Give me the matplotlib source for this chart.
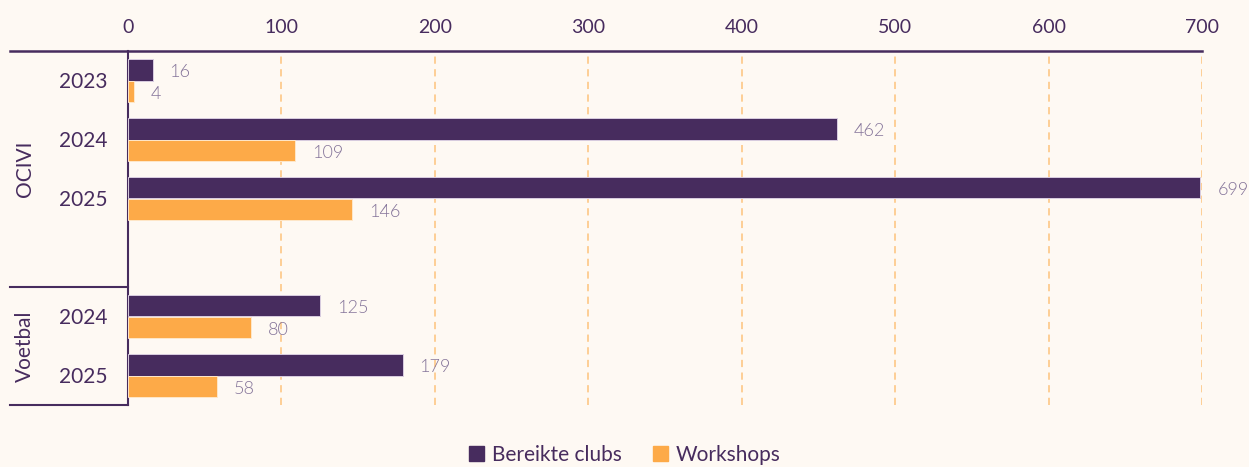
import numpy as np
import matplotlib
matplotlib.use("Agg")
import matplotlib.pyplot as plt
from matplotlib.patches import Patch
from matplotlib.transforms import blended_transform_factory

plt.rcParams["font.family"] = ["Lato", "DejaVu Sans"]

# data
groups = ["OCIVI", "Voetbal"]
years = ["2023", "2024", "2025", "2024", "2025"]
row_group = ["OCIVI", "OCIVI", "OCIVI", "Voetbal", "Voetbal"]
clubs = [16, 462, 699, 125, 179]
workshops = [4, 109, 146, 80, 58]
series = ["Bereikte clubs", "Workshops"]

BG = "#FEF9F3"
PURPLE = "#472C5E"
ORANGE = "#FDAA48"
GRID = "#FDCB8E"
LABEL = "#85759A"

# slot positions: OCIVI uses 4 slots (last empty), Voetbal 2
pos = np.array([0, 1, 2, 4, 5])
group_span = {"OCIVI": (-0.5, 3.5), "Voetbal": (3.5, 5.5)}
bh = 0.37

fig = plt.figure(figsize=(12.49, 4.67), dpi=100, facecolor=BG)
ax = fig.add_axes([128 / 1249, 1 - 405 / 467, 1074 / 1249, 354 / 467])
ax.set_facecolor(BG)

ax.barh(pos - bh / 2, clubs, height=bh, color=PURPLE, edgecolor="#D9CDE0",
        linewidth=0.7, zorder=3)
ax.barh(pos + bh / 2, workshops, height=bh, color=ORANGE, edgecolor="#FFE7C9",
        linewidth=0.7, zorder=3)

for p, c, w in zip(pos, clubs, workshops):
    ax.text(c + 11, p - bh / 2 + 0.04, str(c), va="center", ha="left",
            fontsize=13, color=LABEL, fontweight=300, zorder=4)
    ax.text(w + 11, p + bh / 2 + 0.04, str(w), va="center", ha="left",
            fontsize=13, color=LABEL, fontweight=300, zorder=4)

ax.set_xlim(0, 700)
ax.set_ylim(5.5, -0.5)
ax.set_xticks(np.arange(0, 701, 100))
ax.xaxis.tick_top()
ax.tick_params(axis="x", length=0, pad=11, labelsize=14, labelcolor=PURPLE)
ax.set_yticks([])
for x in range(100, 701, 100):
    ax.axvline(x, color=GRID, lw=1.3, ls=(0, (4, 3)), zorder=1)

for s in ["right", "bottom", "top"]:
    ax.spines[s].set_visible(False)
ax.spines["left"].set_color(PURPLE)
ax.spines["left"].set_linewidth(1.5)

tr = blended_transform_factory(ax.transAxes, ax.transData)
x0 = (10 - 128) / 1074
ax.plot([x0, 1.0], [-0.5, -0.5], transform=tr, color=PURPLE, lw=1.8,
        clip_on=False, zorder=5)
for yl in [3.5, 5.5]:
    ax.plot([x0, 0], [yl, yl], transform=tr, color=PURPLE, lw=1.5,
            clip_on=False, zorder=5)

xy = (83 - 128) / 1074
for p, y in zip(pos, years):
    ax.text(xy, p + 0.03, y, transform=tr, ha="center", va="center",
            fontsize=15, color=PURPLE)
xg = (25 - 128) / 1074
for g in groups:
    lo, hi = group_span[g]
    ax.text(xg, (lo + hi) / 2, g, transform=tr, ha="center", va="center",
            fontsize=15, color=PURPLE, rotation=90)

handles = [Patch(color=PURPLE), Patch(color=ORANGE)]
fig.legend(handles, series, loc="center", bbox_to_anchor=(0.5, 12 / 467),
           ncol=2, frameon=False, fontsize=15, labelcolor=PURPLE,
           handlelength=0.75, handleheight=0.75, handletextpad=0.35,
           columnspacing=1.5)

fig.savefig("out.png", dpi=100, facecolor=BG)
